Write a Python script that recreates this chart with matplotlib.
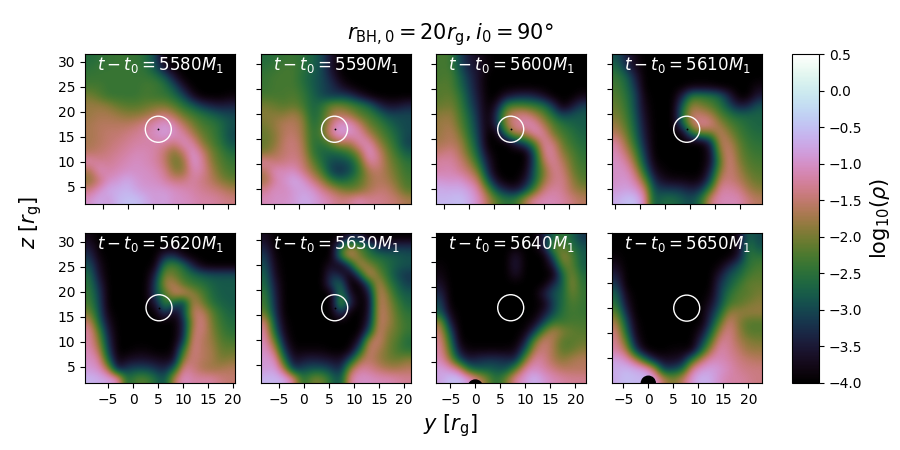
import numpy as np
import matplotlib
matplotlib.use('Agg')
import matplotlib.pyplot as plt
from matplotlib.patches import Circle

# log10(rho) in tenths, rows run from top to bottom
rho_5580 = [
    [-26,-25,-24,-24,-24,-24,-26,-30,-40,-40,-40,-40,-40,-40,-40,-40],
    [-25,-24,-24,-24,-24,-24,-25,-29,-36,-40,-40,-40,-40,-40,-40,-40],
    [-24,-24,-24,-24,-24,-24,-24,-25,-28,-35,-40,-40,-40,-40,-40,-40],
    [-23,-23,-24,-24,-24,-24,-23,-23,-25,-29,-36,-40,-40,-40,-40,-40],
    [-20,-22,-24,-24,-24,-24,-23,-24,-24,-26,-30,-37,-40,-40,-40,-39],
    [-18,-18,-19,-21,-22,-22,-21,-20,-20,-22,-25,-28,-32,-34,-35,-34],
    [-18,-17,-17,-18,-19,-19,-18,-16,-14,-17,-21,-23,-25,-27,-29,-30],
    [-17,-16,-16,-16,-16,-15,-13,-11,-9,-11,-16,-20,-23,-24,-26,-29],
    [-17,-16,-15,-15,-14,-13,-12,-10,-8,-10,-12,-17,-21,-23,-26,-30],
    [-17,-16,-15,-14,-13,-12,-12,-12,-12,-14,-10,-12,-19,-22,-25,-29],
    [-16,-15,-14,-13,-12,-11,-11,-12,-15,-20,-15,-9,-14,-20,-23,-26],
    [-11,-13,-13,-12,-11,-10,-11,-12,-15,-21,-19,-9,-12,-19,-22,-24],
    [-17,-10,-12,-11,-10,-10,-10,-11,-13,-19,-19,-11,-12,-17,-21,-23],
    [-19,-15,-10,-9,-7,-9,-10,-10,-12,-14,-14,-12,-14,-16,-19,-21],
    [-14,-10,-7,-7,-6,-8,-9,-9,-9,-10,-11,-12,-13,-14,-15,-17],
    [-10,-7,-9,-6,-5,-5,-7,-9,-8,-10,-10,-11,-12,-12,-13,-14],
]
rho_5590 = [
    [-26,-25,-24,-24,-25,-27,-30,-36,-40,-40,-40,-40,-40,-40,-40,-40],
    [-25,-24,-23,-23,-25,-27,-30,-36,-40,-40,-40,-40,-40,-40,-40,-40],
    [-24,-23,-23,-23,-26,-28,-30,-34,-39,-40,-40,-40,-40,-40,-40,-40],
    [-24,-23,-23,-23,-25,-28,-30,-32,-36,-39,-40,-40,-40,-40,-40,-40],
    [-23,-23,-23,-22,-24,-27,-30,-32,-31,-32,-36,-39,-40,-40,-40,-40],
    [-20,-21,-22,-21,-23,-27,-25,-20,-20,-22,-24,-27,-33,-36,-36,-34],
    [-19,-19,-19,-17,-20,-27,-24,-18,-16,-18,-22,-23,-26,-30,-30,-30],
    [-20,-18,-16,-16,-18,-26,-23,-14,-9,-10,-15,-21,-23,-26,-29,-30],
    [-21,-19,-16,-15,-18,-25,-22,-12,-8,-10,-11,-17,-21,-24,-27,-30],
    [-21,-19,-15,-14,-17,-25,-25,-21,-16,-17,-11,-11,-18,-22,-26,-31],
    [-20,-17,-15,-14,-16,-24,-27,-27,-26,-23,-18,-9,-14,-20,-24,-28],
    [-12,-15,-14,-13,-15,-21,-26,-30,-30,-29,-22,-12,-13,-19,-22,-25],
    [-16,-10,-11,-10,-14,-18,-23,-31,-33,-30,-24,-17,-15,-18,-21,-24],
    [-18,-12,-10,-7,-9,-14,-18,-24,-27,-25,-22,-18,-16,-17,-20,-23],
    [-13,-10,-11,-9,-8,-9,-13,-16,-19,-21,-20,-17,-15,-15,-18,-22],
    [-11,-10,-10,-9,-7,-8,-10,-12,-14,-13,-11,-13,-13,-14,-15,-17],
]
rho_5600 = [
    [-23,-23,-30,-35,-37,-39,-40,-40,-40,-40,-40,-40,-40,-40,-40,-40],
    [-23,-23,-29,-34,-36,-39,-40,-40,-40,-40,-40,-40,-40,-40,-40,-40],
    [-23,-22,-27,-32,-36,-40,-40,-40,-40,-40,-40,-40,-40,-40,-40,-40],
    [-22,-22,-26,-31,-36,-40,-40,-40,-40,-40,-40,-40,-40,-40,-40,-40],
    [-22,-21,-24,-30,-35,-40,-40,-36,-34,-33,-34,-37,-40,-40,-40,-38],
    [-21,-20,-23,-29,-34,-40,-36,-24,-22,-23,-24,-26,-32,-40,-36,-31],
    [-19,-18,-22,-27,-33,-40,-32,-17,-14,-13,-17,-21,-26,-31,-29,-28],
    [-18,-17,-21,-26,-32,-40,-32,-17,-13,-11,-11,-17,-22,-25,-27,-28],
    [-18,-16,-19,-25,-31,-40,-39,-24,-15,-17,-11,-12,-20,-23,-25,-27],
    [-17,-16,-17,-23,-30,-40,-40,-40,-34,-29,-22,-12,-14,-21,-24,-26],
    [-15,-13,-16,-21,-28,-38,-40,-40,-40,-40,-29,-13,-12,-19,-22,-25],
    [-12,-12,-14,-18,-25,-35,-40,-40,-40,-40,-30,-16,-12,-16,-21,-24],
    [-12,-11,-13,-15,-20,-33,-40,-40,-40,-39,-28,-20,-13,-14,-20,-23],
    [-9,-10,-9,-12,-15,-28,-37,-40,-40,-36,-28,-18,-14,-13,-18,-22],
    [-7,-7,-7,-8,-12,-20,-30,-34,-36,-31,-22,-14,-12,-13,-17,-19],
    [-6,-6,-5,-7,-10,-16,-22,-25,-24,-17,-12,-11,-11,-12,-14,-16],
]
rho_5610 = [
    [-29,-34,-38,-40,-40,-40,-40,-40,-40,-40,-40,-40,-40,-40,-40,-40],
    [-26,-32,-37,-40,-40,-40,-40,-40,-40,-40,-40,-40,-40,-40,-40,-40],
    [-24,-27,-34,-40,-40,-40,-40,-40,-40,-40,-40,-40,-40,-40,-40,-40],
    [-23,-26,-32,-40,-40,-40,-40,-40,-39,-39,-39,-40,-40,-40,-40,-38],
    [-22,-25,-30,-39,-40,-40,-40,-34,-24,-24,-25,-27,-34,-40,-40,-35],
    [-21,-24,-30,-38,-40,-40,-40,-28,-18,-20,-22,-25,-30,-35,-34,-29],
    [-20,-23,-29,-37,-40,-40,-40,-25,-15,-15,-17,-22,-25,-27,-27,-27],
    [-18,-22,-28,-36,-40,-40,-40,-28,-16,-12,-13,-18,-22,-24,-26,-27],
    [-16,-20,-27,-35,-40,-40,-40,-39,-25,-20,-21,-15,-19,-23,-25,-26],
    [-12,-18,-25,-34,-40,-40,-40,-40,-40,-40,-34,-16,-16,-21,-24,-25],
    [-11,-15,-22,-32,-40,-40,-40,-40,-40,-40,-37,-19,-14,-20,-23,-24],
    [-10,-12,-19,-30,-39,-40,-40,-40,-40,-40,-37,-22,-13,-19,-22,-23],
    [-10,-10,-15,-26,-37,-39,-40,-40,-40,-40,-34,-19,-14,-17,-21,-22],
    [-10,-9,-12,-20,-33,-37,-38,-38,-39,-38,-30,-15,-14,-16,-19,-21],
    [-9,-8,-9,-14,-30,-31,-31,-32,-34,-32,-22,-12,-12,-13,-17,-19],
    [-7,-5,-5,-11,-29,-26,-26,-28,-30,-25,-14,-11,-11,-11,-14,-16],
]
rho_5620 = [
    [-38,-40,-40,-40,-40,-40,-40,-40,-40,-40,-40,-40,-40,-40,-40,-40],
    [-35,-40,-40,-40,-40,-40,-40,-40,-40,-40,-40,-40,-40,-40,-40,-40],
    [-32,-39,-40,-40,-40,-40,-40,-40,-33,-32,-38,-40,-40,-40,-40,-40],
    [-29,-37,-40,-40,-40,-40,-40,-39,-24,-22,-26,-34,-39,-40,-40,-40],
    [-26,-36,-40,-40,-40,-40,-40,-34,-19,-21,-24,-26,-28,-29,-29,-29],
    [-25,-33,-40,-40,-40,-40,-40,-31,-17,-16,-22,-24,-25,-27,-28,-28],
    [-24,-31,-40,-40,-40,-40,-40,-30,-23,-15,-14,-18,-22,-26,-28,-28],
    [-23,-30,-40,-40,-40,-40,-40,-35,-23,-27,-33,-16,-20,-25,-27,-28],
    [-20,-29,-39,-40,-40,-40,-40,-40,-30,-39,-30,-15,-15,-21,-25,-27],
    [-15,-27,-37,-40,-40,-40,-40,-40,-40,-40,-34,-17,-13,-20,-24,-26],
    [-12,-22,-35,-40,-40,-40,-40,-40,-40,-40,-34,-15,-14,-19,-23,-25],
    [-12,-19,-33,-40,-40,-40,-40,-40,-40,-40,-32,-13,-16,-18,-22,-23],
    [-11,-16,-31,-40,-40,-39,-39,-40,-40,-39,-24,-13,-16,-17,-21,-21],
    [-10,-12,-27,-39,-37,-36,-36,-37,-38,-37,-18,-14,-16,-17,-20,-19],
    [-9,-10,-17,-36,-31,-30,-30,-32,-34,-28,-12,-14,-17,-18,-17,-16],
    [-6,-7,-8,-10,-27,-22,-22,-26,-30,-16,-10,-12,-12,-12,-14,-15],
]
rho_5630 = [
    [-37,-40,-40,-40,-40,-40,-40,-40,-40,-35,-35,-40,-40,-40,-40,-40],
    [-34,-40,-40,-40,-40,-40,-40,-40,-26,-18,-22,-26,-33,-34,-32,-32],
    [-31,-39,-40,-40,-40,-40,-40,-40,-23,-14,-20,-25,-26,-27,-28,-29],
    [-29,-38,-40,-40,-40,-40,-40,-36,-40,-30,-15,-19,-23,-26,-28,-29],
    [-27,-37,-40,-40,-40,-40,-40,-32,-34,-40,-29,-14,-20,-25,-30,-32],
    [-26,-35,-40,-40,-40,-40,-40,-30,-26,-40,-40,-29,-15,-23,-27,-31],
    [-24,-34,-40,-40,-40,-40,-40,-40,-23,-36,-40,-36,-15,-19,-26,-28],
    [-23,-33,-40,-40,-40,-40,-40,-40,-19,-32,-40,-38,-15,-18,-23,-27],
    [-21,-32,-40,-40,-40,-40,-40,-40,-30,-40,-40,-37,-15,-17,-22,-25],
    [-14,-30,-39,-40,-40,-40,-40,-40,-40,-40,-40,-35,-15,-17,-21,-24],
    [-12,-27,-38,-40,-40,-40,-40,-40,-40,-40,-40,-30,-14,-19,-21,-24],
    [-11,-21,-36,-40,-40,-40,-40,-40,-40,-40,-36,-17,-14,-20,-22,-26],
    [-10,-15,-32,-39,-39,-39,-39,-40,-40,-39,-28,-14,-17,-20,-23,-25],
    [-9,-10,-26,-37,-35,-34,-35,-36,-37,-30,-18,-15,-18,-20,-21,-19],
    [-9,-8,-17,-33,-30,-29,-29,-31,-34,-18,-12,-13,-15,-17,-17,-16],
    [-6,-6,-7,-13,-26,-20,-20,-26,-30,-12,-10,-10,-11,-11,-12,-13],
]
rho_5640 = [
    [-40,-40,-40,-40,-40,-40,-40,-40,-40,-40,-40,-34,-27,-24,-27,-32],
    [-40,-40,-40,-40,-40,-40,-40,-40,-40,-40,-40,-34,-20,-22,-25,-29],
    [-40,-40,-40,-40,-40,-40,-40,-40,-35,-40,-40,-40,-29,-17,-22,-28],
    [-39,-40,-40,-40,-40,-40,-40,-40,-34,-40,-40,-40,-35,-21,-21,-28],
    [-38,-40,-40,-40,-40,-40,-40,-40,-36,-40,-40,-40,-40,-27,-19,-26],
    [-36,-40,-40,-40,-40,-40,-40,-40,-40,-40,-40,-40,-33,-28,-18,-25],
    [-33,-40,-40,-40,-40,-40,-40,-40,-40,-40,-40,-34,-29,-27,-20,-24],
    [-30,-40,-40,-40,-40,-40,-40,-40,-40,-40,-40,-39,-31,-26,-22,-24],
    [-28,-38,-40,-40,-40,-40,-40,-40,-40,-40,-40,-36,-30,-25,-23,-24],
    [-18,-35,-40,-40,-40,-40,-40,-40,-40,-40,-38,-31,-24,-24,-23,-23],
    [-15,-29,-40,-40,-40,-40,-40,-40,-40,-39,-32,-21,-16,-19,-21,-22],
    [-13,-25,-39,-40,-40,-40,-40,-40,-40,-35,-21,-14,-17,-22,-22,-21],
    [-12,-22,-36,-39,-39,-39,-39,-39,-38,-29,-16,-14,-17,-22,-21,-19],
    [-11,-18,-30,-35,-33,-32,-32,-33,-34,-20,-12,-13,-17,-19,-17,-16],
    [-8,-10,-14,-26,-29,-28,-29,-30,-22,-12,-10,-12,-14,-16,-16,-16],
    [-8,-5,-5,-9,-14,-20,-26,-20,-12,-9,-6,-9,-11,-12,-13,-13],
]
rho_5650 = [
    [-40,-40,-40,-40,-40,-40,-40,-40,-40,-40,-40,-40,-40,-38,-27,-30],
    [-40,-40,-40,-40,-40,-40,-40,-40,-40,-40,-40,-40,-40,-38,-24,-29],
    [-39,-40,-40,-40,-40,-40,-40,-40,-40,-40,-40,-40,-40,-36,-25,-25],
    [-37,-40,-40,-40,-40,-40,-40,-40,-40,-40,-40,-39,-34,-29,-25,-23],
    [-34,-40,-40,-40,-40,-40,-40,-40,-40,-40,-40,-35,-29,-27,-23,-22],
    [-31,-40,-40,-40,-40,-40,-40,-40,-40,-40,-40,-32,-28,-24,-21,-21],
    [-27,-38,-40,-40,-40,-40,-40,-40,-40,-40,-39,-31,-25,-22,-22,-20],
    [-25,-36,-40,-40,-40,-40,-40,-40,-40,-40,-37,-30,-23,-22,-20,-19],
    [-21,-33,-40,-40,-40,-40,-40,-40,-40,-40,-34,-27,-18,-18,-18,-18],
    [-17,-29,-39,-40,-40,-40,-40,-40,-40,-40,-32,-22,-14,-19,-22,-22],
    [-14,-26,-38,-40,-40,-40,-40,-40,-40,-37,-28,-17,-13,-18,-22,-22],
    [-13,-21,-36,-40,-40,-40,-40,-40,-40,-33,-23,-13,-13,-17,-19,-20],
    [-12,-16,-31,-39,-40,-40,-39,-39,-39,-28,-17,-11,-13,-15,-18,-18],
    [-8,-10,-16,-26,-35,-37,-37,-36,-25,-16,-11,-11,-12,-14,-15,-16],
    [-7,-6,-7,-8,-15,-32,-31,-28,-13,-9,-8,-9,-11,-13,-14,-14],
    [-7,-5,-6,-6,-8,-16,-20,-16,-9,-6,-7,-10,-12,-12,-13,-14],
]

times = [5580, 5590, 5600, 5610, 5620, 5630, 5640, 5650]
panels = [rho_5580, rho_5590, rho_5600, rho_5610, rho_5620, rho_5630, rho_5640, rho_5650]

# secondary black hole position in each frame
bh_y = [6.06, 7.2, 8.28, 9.28, 5.2, 6.14, 7.08, 7.68]
bh_z = [16.5, 16.9, 16.9, 16.9, 16.8, 16.4, 15.8, 15.0]

# lower left corner of each 30 r_g window
y_left = [-8.6, -7.5, -6.66, -5.66, -9.6, -8.6, -7.86, -7.26]
z_bottom = [1.6, 2.0, 2.0, 2.0, 1.8, 1.4, 0.8, 0.05]

fig_w, fig_h = 900, 450
col_x = [85, 261, 436, 612]
row_y = [54, 233]
panel_w, panel_h = 150, 150

fig = plt.figure(figsize=(9, 4.5), dpi=100)

def px_axes(x0, y0, w, h):
    return fig.add_axes([x0 / fig_w, 1 - (y0 + h) / fig_h, w / fig_w, h / fig_h])

for i, t in enumerate(times):
    ax = px_axes(col_x[i % 4], row_y[i // 4], panel_w, panel_h)
    rho = np.array(panels[i]) / 10
    x0, z0 = y_left[i], z_bottom[i]
    im = ax.imshow(rho, extent=[x0, x0 + 30, z0, z0 + 30], origin='upper', aspect='auto',
                   cmap='cubehelix', vmin=-4, vmax=0.5, interpolation='bicubic')
    ax.set_xlim(x0, x0 + 30)
    ax.set_ylim(z0, z0 + 29.9)
    ax.set_xticks([-5, 0, 5, 10, 15, 20])
    ax.set_yticks([5, 10, 15, 20, 25, 30])
    ax.tick_params(labelbottom=i >= 4, labelleft=i % 4 == 0, labelsize=10)

    ax.add_patch(Circle((bh_y[i], bh_z[i]), 2.6, fill=False, edgecolor='white', lw=1.0))
    if i < 6:
        ax.plot(bh_y[i], bh_z[i], 'o', color='black', ms=1.3, mew=0)
    # primary black hole shows up at the bottom of the last two frames
    if i >= 6:
        ax.add_patch(Circle((0, 0), 1.4, color='black', zorder=3))

    ax.text(0.5, 0.93, r'$t-t_0=%d M_1$' % t, transform=ax.transAxes, color='white',
            fontsize=12, ha='center', va='center')

cax = px_axes(792, 54, 27, 329)
cb = fig.colorbar(im, cax=cax)
cb.set_ticks(np.arange(-4, 0.51, 0.5))
cb.ax.tick_params(labelsize=10)
cb.set_label(r'$\mathrm{log}_{10}(\rho)$', fontsize=15)

fig.text(0.5, 0.923, r'$r_{\mathrm{BH,0}}=20r_{\mathrm{g}},i_0=90°$', fontsize=15, ha='center', va='center')
fig.text(0.5, 0.055, r'$y\ [r_{\mathrm{g}}]$', fontsize=15, ha='center', va='center')
fig.text(0.034, 0.505, r'$z\ [r_{\mathrm{g}}]$', fontsize=15, ha='center', va='center', rotation=90)

fig.savefig('out.png', dpi=100)
